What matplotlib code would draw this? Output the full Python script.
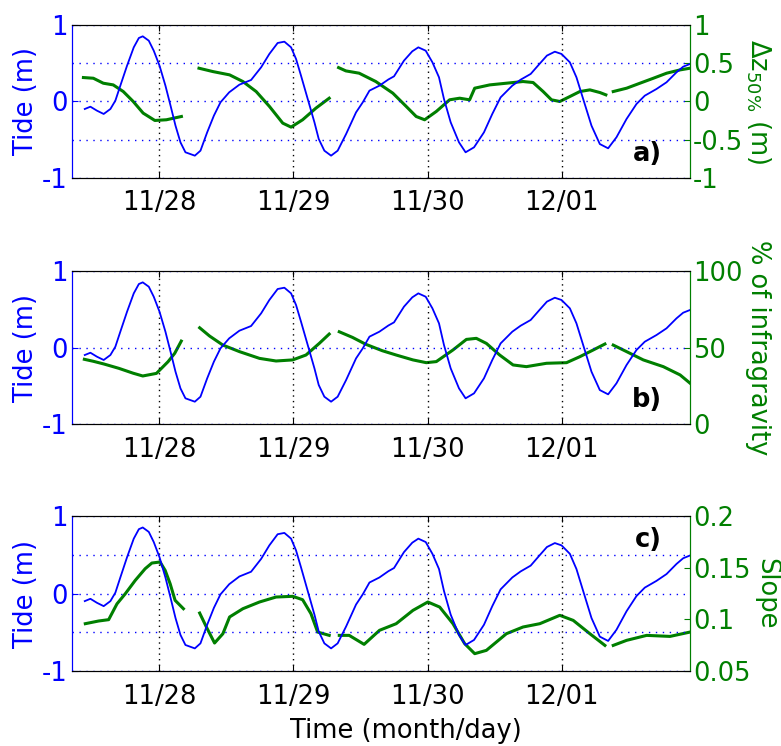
import numpy as np
import matplotlib
matplotlib.use("Agg")
from matplotlib import pyplot as plt

## time is in days after 11/27 00:00
tide_t = [0.446, 0.488, 0.537, 0.587, 0.637, 0.674, 0.711, 0.761, 0.811, 0.849,
          0.878, 0.923, 0.960, 1.003, 1.047, 1.085, 1.122, 1.159, 1.196, 1.266,
          1.308, 1.358, 1.408, 1.457, 1.522, 1.598, 1.685, 1.760, 1.821, 1.883,
          1.933, 1.983, 2.020, 2.057, 2.107, 2.157, 2.189, 2.231, 2.281, 2.330,
          2.393, 2.467, 2.517, 2.567, 2.641, 2.708, 2.750, 2.824, 2.886, 2.931,
          2.986, 3.036, 3.085, 3.122, 3.172, 3.234, 3.283, 3.346, 3.420, 3.482,
          3.544, 3.631, 3.693, 3.768, 3.833, 3.889, 3.948, 3.998, 4.060, 4.109,
          4.159, 4.221, 4.283, 4.345, 4.407, 4.482, 4.556, 4.618, 4.705, 4.780,
          4.854, 4.904, 4.954]
tide = [-0.098, -0.068, -0.120, -0.163, -0.098, 0.011, 0.207, 0.468, 0.708, 0.830,
        0.852, 0.795, 0.664, 0.468, 0.207, -0.054, -0.316, -0.534, -0.664, -0.708,
        -0.643, -0.403, -0.185, -0.011, 0.120, 0.220, 0.281, 0.447, 0.621, 0.765,
        0.782, 0.708, 0.556, 0.338, 0.033, -0.272, -0.490, -0.643, -0.708, -0.643,
        -0.425, -0.142, -0.011, 0.142, 0.207, 0.288, 0.329, 0.534, 0.656, 0.708,
        0.664, 0.512, 0.316, 0.033, -0.272, -0.534, -0.664, -0.599, -0.403, -0.163,
        0.054, 0.207, 0.285, 0.360, 0.490, 0.600, 0.651, 0.621, 0.512, 0.316,
        0.033, -0.316, -0.556, -0.612, -0.468, -0.229, -0.033, 0.076, 0.163, 0.251,
        0.381, 0.455, 0.490]

## a) dz50 segments (time, value)
dz_t = [
    [0.436, 0.510, 0.584, 0.658, 0.733, 0.807, 0.881, 0.968, 1.054, 1.166],
    [1.297, 1.401, 1.525, 1.624, 1.723, 1.822, 1.921, 1.983, 2.069, 2.168, 2.267],
    [2.337, 2.391, 2.490, 2.614, 2.741, 2.841, 2.915, 2.978, 3.065, 3.164, 3.239,
     3.313, 3.351, 3.463, 3.587, 3.711, 3.786, 3.861, 3.923, 3.985, 4.060, 4.134,
     4.209, 4.284, 4.328],
    [4.383, 4.483, 4.582, 4.682, 4.781, 4.881, 4.955],
]
dz = [
    [0.313, 0.304, 0.239, 0.217, 0.130, 0.000, -0.152, -0.248, -0.239, -0.196],
    [0.435, 0.391, 0.348, 0.261, 0.130, -0.065, -0.283, -0.335, -0.239, -0.087, 0.043],
    [0.443, 0.400, 0.370, 0.261, 0.109, -0.065, -0.196, -0.239, -0.130, 0.022, 0.043,
     0.022, 0.174, 0.217, 0.239, 0.261, 0.248, 0.130, 0.022, 0.000, 0.065, 0.130,
     0.152, 0.117, 0.087],
    [0.130, 0.174, 0.239, 0.304, 0.370, 0.413, 0.435],
]

## b) percent of infragravity
ig_t = [
    [0.443, 0.510, 0.590, 0.700, 0.807, 0.878, 0.980, 1.066, 1.116, 1.165],
    [1.302, 1.376, 1.475, 1.599, 1.748, 1.871, 1.995, 2.094, 2.193, 2.267],
    [2.342, 2.441, 2.540, 2.663, 2.766, 2.891, 2.990, 3.065, 3.189, 3.289, 3.363,
     3.438, 3.537, 3.637, 3.736, 3.886, 4.035, 4.134, 4.234, 4.321],
    [4.383, 4.483, 4.607, 4.756, 4.881, 4.955],
]
ig = [
    [42.3, 41.0, 39.2, 36.4, 33.2, 31.4, 33.1, 40.7, 46.2, 54.2],
    [62.9, 57.5, 51.6, 47.3, 42.9, 41.2, 41.9, 45.1, 52.7, 58.8],
    [60.3, 56.6, 52.1, 47.9, 45.1, 41.9, 40.1, 40.8, 48.4, 55.3, 56.0,
     52.7, 45.1, 38.6, 37.5, 39.7, 40.1, 44.0, 48.4, 52.3],
    [51.6, 47.3, 41.9, 37.5, 32.1, 26.7],
]

## c) slope
sl_t = [
    [0.450, 0.549, 0.624, 0.686, 0.748, 0.822, 0.896, 0.946, 1.007, 1.045, 1.082,
     1.119, 1.181],
    [1.302, 1.352, 1.413, 1.475, 1.525, 1.624, 1.748, 1.871, 1.995, 2.069, 2.131,
     2.181, 2.267],
    [2.342, 2.416, 2.527, 2.642, 2.766, 2.891, 3.002, 3.090, 3.189, 3.276, 3.351,
     3.438, 3.587, 3.711, 3.836, 3.985, 4.085, 4.209, 4.321],
    [4.383, 4.483, 4.632, 4.806, 4.955],
]
sl = [
    [0.0958, 0.0984, 0.0997, 0.115, 0.1248, 0.1377, 0.149, 0.1545, 0.1555, 0.1474,
     0.1345, 0.1184, 0.1103],
    [0.1061, 0.0926, 0.0771, 0.0861, 0.1023, 0.1103, 0.1168, 0.1216, 0.1223, 0.119,
     0.1055, 0.0877, 0.0845],
    [0.0845, 0.0845, 0.0758, 0.0894, 0.0958, 0.1087, 0.1168, 0.1119, 0.0958, 0.0765,
     0.0668, 0.070, 0.0861, 0.0926, 0.0958, 0.1039, 0.099, 0.0861, 0.0748],
    [0.0748, 0.0797, 0.0845, 0.0835, 0.0877],
]

day_ticks = [1, 2, 3, 4]
day_labels = ["11/28", "11/29", "11/30", "12/01"]

blue = "#0000ff"
green = "#007f00"
fs = 18.5

fig = plt.figure(figsize=(7.81, 7.46), dpi=100)
panels = [
    ([0.0922, 0.7614, 0.7913, 0.2051], dz_t, dz, (-1, 1), [-1, -0.5, 0, 0.5, 1],
     ["-1", "-0.5", "0", "0.5", "1"], "$\\Delta$z$_{50\\%}$ (m)", "a)", True),
    ([0.0922, 0.4316, 0.7913, 0.2051], ig_t, ig, (0, 100), [0, 50, 100],
     ["0", "50", "100"], "% of infragravity", "b)", False),
    ([0.0922, 0.1005, 0.7913, 0.2078], sl_t, sl, (0.05, 0.2), [0.05, 0.1, 0.15, 0.2],
     ["0.05", "0.1", "0.15", "0.2"], "Slope", "c)", True),
]

for pos, gt, gv, ylim2, ticks2, labels2, label2, tag, half_grid in panels:
    ax = fig.add_axes(pos)
    ax2 = ax.twinx()
    ax.set_zorder(ax2.get_zorder() + 1)
    ax.patch.set_visible(False)

    for t, v in zip(gt, gv):
        ax2.plot(t, v, color=green, lw=2.2)
    ax.plot(tide_t, tide, color=blue, lw=1.3)

    ax.set_xlim(0.351, 4.955)
    ax.set_ylim(-1, 1)
    ax.set_yticks([-1, 0, 1])
    ax.set_yticklabels(["-1", "0", "1"])
    if half_grid:
        ax.set_yticks([-0.5, 0.5], minor=True)
    ax.set_xticks(day_ticks)
    ax.set_xticklabels(day_labels)

    ax.grid(True, axis="y", which="both", color=blue, linestyle=(0, (1, 4)), lw=1)
    ax.grid(True, axis="x", color="black", linestyle=(0, (1, 3)), lw=1)

    ax.tick_params(axis="y", colors=blue, labelsize=fs, direction="in", length=4, pad=3)
    ax.tick_params(axis="y", which="minor", length=0)
    ax.tick_params(axis="x", labelsize=fs, direction="in", length=4, top=True, pad=9)
    ax.set_ylabel("Tide (m)", color=blue, fontsize=fs, labelpad=2)

    ax2.set_ylim(*ylim2)
    ax2.set_yticks(ticks2)
    ax2.set_yticklabels(labels2)
    ax2.tick_params(axis="y", colors=green, labelsize=fs, direction="in", length=4, pad=2)
    ax2.set_ylabel(label2, color=green, fontsize=fs, rotation=270, labelpad=21)

    ax2.spines["left"].set_color(blue)
    ax2.spines["right"].set_color(green)
    ax.spines["left"].set_color(blue)
    ax.spines["right"].set_color(green)

    if tag == "c)":
        ax.text(0.955, 0.93, tag, transform=ax.transAxes, fontsize=fs,
                fontweight="bold", ha="right", va="top")
    else:
        ax.text(0.955, 0.07, tag, transform=ax.transAxes, fontsize=fs,
                fontweight="bold", ha="right", va="bottom")

    if tag == "c)":
        ax.set_xlabel("Time (month/day)", fontsize=fs, labelpad=8)
        ax.xaxis.set_label_coords(0.54, -0.30)

fig.savefig("out.png", dpi=100)
